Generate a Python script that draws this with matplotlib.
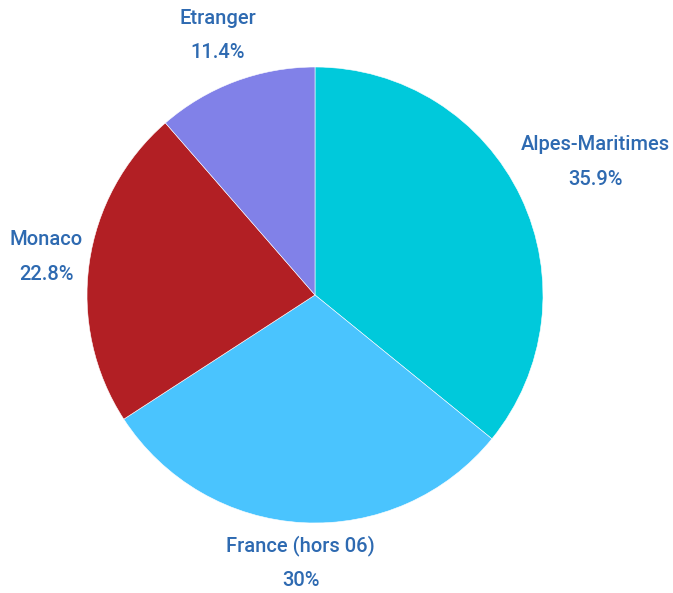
import matplotlib
matplotlib.use("Agg")
import matplotlib.pyplot as plt
from matplotlib import font_manager
import numpy as np

categories = ["Alpes-Maritimes", "France (hors 06)", "Monaco", "Etranger"]
values = [35.9, 30.0, 22.8, 11.4]
value_labels = ["35.9%", "30%", "22.8%", "11.4%"]
colors = ["#00C9DB", "#4AC4FE", "#B21F24", "#8181E8"]
label_dist = [1.36, 1.175, 1.19, 1.215]

names = {f.name for f in font_manager.fontManager.ttflist}
family = "Liberation Sans Narrow" if "Liberation Sans Narrow" in names else "Roboto"

W, H = 673, 593
fig = plt.figure(figsize=(W / 100, H / 100), dpi=100)
ax = fig.add_axes([0, 0, 1, 1])
cx, cy, R = 315, 298, 228

wedges, _ = ax.pie(values, colors=colors, startangle=90, counterclock=False,
                   radius=1.0, center=(0, 0), frame=True,
                   wedgeprops=dict(edgecolor="white", linewidth=0.4))
ax.set_xlim(-cx / R, (W - cx) / R)
ax.set_ylim(-cy / R, (H - cy) / R)
ax.set_aspect("auto")
ax.axis("off")

for w, name, vl, d in zip(wedges, categories, value_labels, label_dist):
    ang = np.deg2rad((w.theta1 + w.theta2) / 2)
    ax.text(d * np.cos(ang), d * np.sin(ang), f"{name}\n{vl}", ha="center", va="center",
            fontsize=14.5, color="#2E6AB1", family=family, fontweight="medium",
            linespacing=2.05)

fig.savefig("out.png", dpi=100)
